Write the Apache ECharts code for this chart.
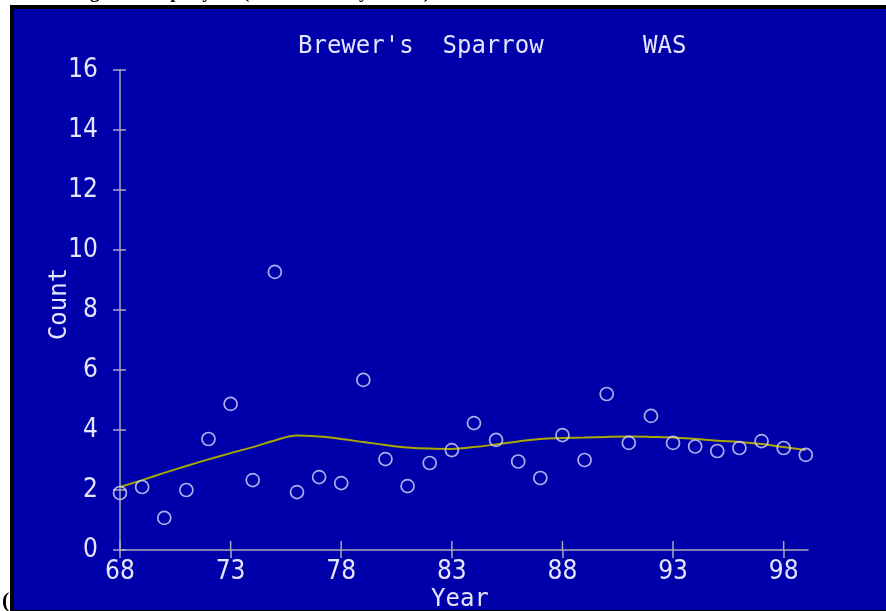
<!DOCTYPE html>
<html><head><meta charset="utf-8">
<script src="https://cdn.jsdelivr.net/npm/echarts@6/dist/echarts.min.js"></script>
<style>html,body{margin:0;padding:0;background:#fff;}#c{width:886px;height:611px;}</style>
</head><body><div id="c"></div>
<script>
const years  = [68,69,70,71,72,73,74,75,76,77,78,79,80,81,82,83,84,85,86,87,88,89,90,91,92,93,94,95,96,97,98,99];
const counts = [1.9,2.1,1.07,2.0,3.7,4.87,2.33,9.27,1.93,2.43,2.23,5.67,3.03,2.13,2.9,3.33,4.23,3.67,2.95,2.4,3.83,3.0,5.2,3.57,4.47,3.57,3.45,3.3,3.4,3.63,3.4,3.17];
const trend  = [2.1,2.33,2.57,2.8,3.02,3.23,3.43,3.65,3.82,3.78,3.7,3.6,3.5,3.42,3.38,3.37,3.43,3.52,3.62,3.7,3.73,3.75,3.77,3.78,3.77,3.75,3.7,3.64,3.6,3.53,3.43,3.33];
const xTicks = [68,73,78,83,88,93,98];
const yTicks = [0,2,4,6,8,10,12,14,16];
const speciesName = "Brewer's  Sparrow";
const regionCode = "WAS";
const headerText = "Average counts per year (all BBS survey routes)";

const BLUE = '#0000AA';
const AXIS = '#A8A8B8';
const TXT = '#E4E4FF';
const numFont = '"Liberation Sans Narrow", "DejaVu Sans Condensed", "Liberation Sans", sans-serif';
const monoFont = '"DejaVu Sans Mono", "Liberation Mono", monospace';

const chart = echarts.init(document.getElementById('c'), null, {renderer: 'canvas'});
const pts = years.map((y, i) => [y, counts[i]]);
const tr = years.map((y, i) => [y, trend[i]]);

// inner halves of the crossing tick marks, placed through the axis scales
const tickItems = xTicks.map(v => ({value: [v, 0], name: 'x'}))
  .concat(yTicks.map(v => ({value: [68, v], name: 'y'})));

chart.setOption({
  backgroundColor: BLUE,
  animation: false,
  graphic: [
    {type: 'rect', x: 0, y: 0, shape: {width: 886, height: 5}, style: {fill: '#fff'}},
    {type: 'rect', x: 0, y: 0, shape: {width: 10, height: 611}, style: {fill: '#fff'}},
    {type: 'text', x: 430, y: 3,
     style: {text: headerText, font: 'bold 19px "Liberation Serif", serif', fill: '#000', align: 'right', verticalAlign: 'bottom'}},
    {type: 'rect', x: 10, y: 5, shape: {width: 876, height: 4}, style: {fill: '#000'}},
    {type: 'rect', x: 10, y: 5, shape: {width: 4, height: 606}, style: {fill: '#000'}},
    {type: 'rect', x: 10, y: 610, shape: {width: 876, height: 1}, style: {fill: '#000'}},
    {type: 'text', x: 2, y: 590,
     style: {text: '(', font: 'bold 22px "Liberation Serif", serif', fill: '#000', verticalAlign: 'top'}},
    {type: 'text', x: 298, y: 35,
     style: {text: speciesName, font: '24px ' + monoFont, fill: TXT, verticalAlign: 'top'}},
    {type: 'text', x: 643, y: 35,
     style: {text: regionCode, font: '24px ' + monoFont, fill: TXT, verticalAlign: 'top'}}
  ],
  grid: {left: 120, top: 70, width: 688, height: 480, containLabel: false, outerBoundsMode: 'none'},
  xAxis: {
    type: 'value', min: 68, max: 99.1, position: 'bottom', splitLine: {show: false},
    axisLine: {show: true, lineStyle: {color: AXIS, width: 1.5}},
    axisTick: {show: true, length: 8, customValues: xTicks, lineStyle: {color: AXIS, width: 1.5}},
    axisLabel: {customValues: xTicks, color: TXT, fontFamily: numFont, fontSize: 26, margin: 9},
    name: 'Year', nameLocation: 'middle', nameGap: 33, nameMoveOverlap: false,
    nameTextStyle: {color: TXT, fontFamily: monoFont, fontSize: 24, padding: [5, 8, 0, 0]}
  },
  yAxis: {
    type: 'value', min: 0, max: 16, interval: 2, position: 'left', splitLine: {show: false},
    axisLine: {show: true, lineStyle: {color: AXIS, width: 1.5}},
    axisTick: {show: true, length: 7, lineStyle: {color: AXIS, width: 1.5}},
    axisLabel: {color: TXT, fontFamily: numFont, fontSize: 26, margin: 22},
    name: 'Count', nameLocation: 'middle', nameGap: 48, nameRotate: 90, nameMoveOverlap: false,
    nameTextStyle: {color: TXT, fontFamily: monoFont, fontSize: 24, padding: [0, 0, 0, 12]}
  },
  series: [
    {type: 'custom', data: tickItems, silent: true, z: 1, clip: false,
     renderItem: function (params, api) {
       const p = api.coord([api.value(0), api.value(1)]);
       const isX = tickItems[params.dataIndex].name === 'x';
       const shape = isX ? {x1: p[0], y1: p[1], x2: p[0], y2: p[1] - 9}
                         : {x1: p[0], y1: p[1], x2: p[0] + 6, y2: p[1]};
       return {type: 'line', shape: shape, style: {stroke: AXIS, lineWidth: 1.5}};
     },
     encode: {x: 0, y: 1}},
    {type: 'line', data: tr, smooth: 0.4, showSymbol: false, symbol: 'none',
     lineStyle: {color: '#A8A800', width: 2}, z: 2, silent: true},
    {type: 'scatter', data: pts, symbol: 'circle', symbolSize: 13, z: 3,
     itemStyle: {color: 'rgba(0,0,0,0)', borderColor: '#D8D8FF', borderWidth: 1.7}}
  ]
});
</script>
</body></html>
